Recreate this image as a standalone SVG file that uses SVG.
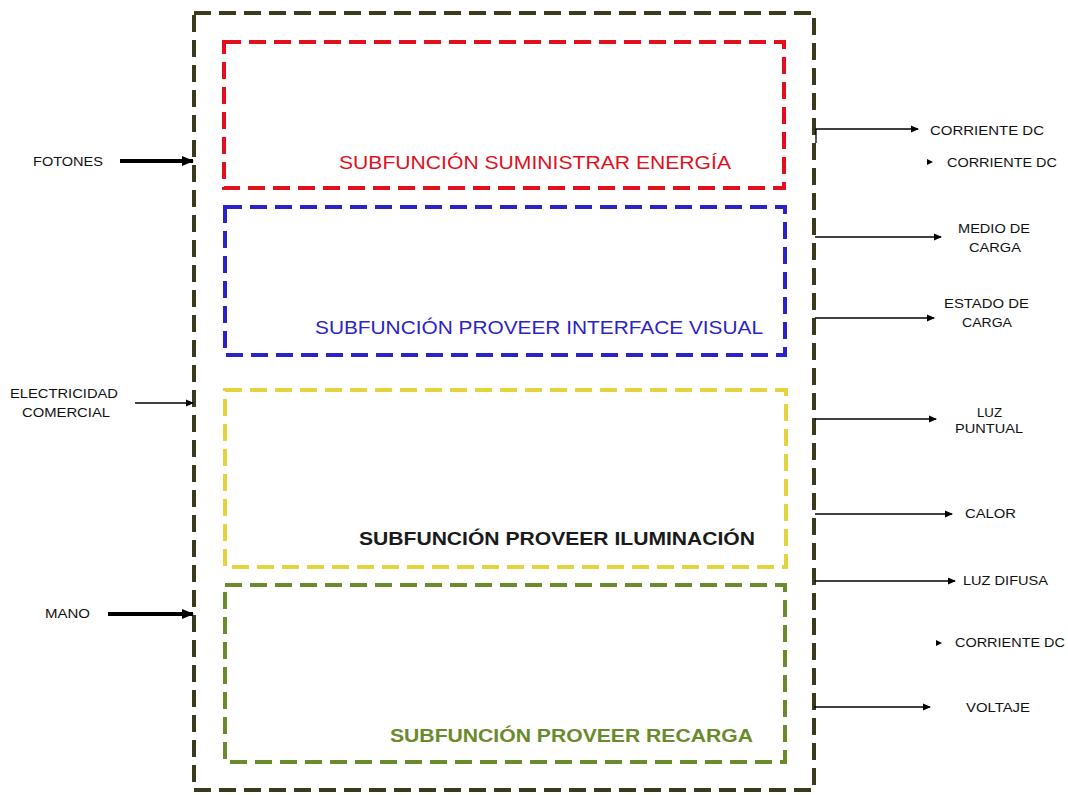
<svg xmlns="http://www.w3.org/2000/svg" width="1068" height="795" viewBox="0 0 1068 795">
<style>
.lbl{font-family:"Liberation Sans",Arial,sans-serif;font-size:13px;fill:#111}
.sub{font-family:"Liberation Sans",Arial,sans-serif;font-size:19px}
.box{fill:none;stroke-width:4;stroke-dasharray:17 8}
.thin{stroke:#000;stroke-width:1.3;fill:none}
.thick{stroke:#000;stroke-width:4;fill:none}
</style>
<defs>
<marker id="ah" markerWidth="8" markerHeight="8" refX="7" refY="4" orient="auto" markerUnits="userSpaceOnUse"><path d="M0,0.5 L8,4 L0,7.5 Z" fill="#000"/></marker>
<marker id="ahb" markerWidth="12" markerHeight="12" refX="11" refY="6" orient="auto" markerUnits="userSpaceOnUse"><path d="M0,1 L12,6 L0,11 Z" fill="#000"/></marker>
</defs>
<rect width="1068" height="795" fill="#fff"/>
<g id="outer"><rect x="194" y="13" width="620" height="777" class="box" stroke="#3b3a1c"/></g>
<g id="energia"><rect x="224" y="42" width="560" height="146" class="box" stroke="#e2101c"/><text class="sub" x="339" y="169" fill="#e2101c" textLength="392" lengthAdjust="spacingAndGlyphs">SUBFUNCIÓN SUMINISTRAR ENERGÍA</text></g>
<g id="interface"><rect x="225" y="207" width="560" height="148" class="box" stroke="#2b22c8"/><text class="sub" x="315" y="334" fill="#2b22c8" textLength="448" lengthAdjust="spacingAndGlyphs">SUBFUNCIÓN PROVEER INTERFACE VISUAL</text></g>
<g id="iluminacion"><rect x="225" y="390" width="561" height="177" class="box" stroke="#e3d33c"/><text class="sub" x="359" y="545" fill="#1a1a1a" font-weight="bold" textLength="396" lengthAdjust="spacingAndGlyphs">SUBFUNCIÓN PROVEER ILUMINACIÓN</text></g>
<g id="recarga"><rect x="225" y="585" width="560" height="177" class="box" stroke="#6b8a2c"/><text class="sub" x="390" y="742" fill="#6b8a2c" font-weight="bold" textLength="363" lengthAdjust="spacingAndGlyphs">SUBFUNCIÓN PROVEER RECARGA</text></g>
<g id="labels">
<text class="lbl" x="33" y="166" textLength="70" lengthAdjust="spacingAndGlyphs">FOTONES</text>
<text class="lbl" x="10" y="398" textLength="108" lengthAdjust="spacingAndGlyphs">ELECTRICIDAD</text>
<text class="lbl" x="22" y="417" textLength="88" lengthAdjust="spacingAndGlyphs">COMERCIAL</text>
<text class="lbl" x="45" y="618" textLength="45" lengthAdjust="spacingAndGlyphs">MANO</text>
<text class="lbl" x="930" y="135" textLength="114" lengthAdjust="spacingAndGlyphs">CORRIENTE DC</text>
<text class="lbl" x="947" y="167" textLength="110" lengthAdjust="spacingAndGlyphs">CORRIENTE DC</text>
<text class="lbl" x="958" y="233" textLength="72" lengthAdjust="spacingAndGlyphs">MEDIO DE</text>
<text class="lbl" x="969" y="252" textLength="52" lengthAdjust="spacingAndGlyphs">CARGA</text>
<text class="lbl" x="944" y="308" textLength="85" lengthAdjust="spacingAndGlyphs">ESTADO DE</text>
<text class="lbl" x="962" y="327" textLength="50" lengthAdjust="spacingAndGlyphs">CARGA</text>
<text class="lbl" x="977" y="417" textLength="25" lengthAdjust="spacingAndGlyphs">LUZ</text>
<text class="lbl" x="955" y="433" textLength="68" lengthAdjust="spacingAndGlyphs">PUNTUAL</text>
<text class="lbl" x="965" y="518" textLength="51" lengthAdjust="spacingAndGlyphs">CALOR</text>
<text class="lbl" x="963" y="585" textLength="85" lengthAdjust="spacingAndGlyphs">LUZ DIFUSA</text>
<text class="lbl" x="955" y="647" textLength="110" lengthAdjust="spacingAndGlyphs">CORRIENTE DC</text>
<text class="lbl" x="966" y="712" textLength="64" lengthAdjust="spacingAndGlyphs">VOLTAJE</text>
</g>
<g id="connectors">
<line x1="120" y1="161" x2="193" y2="161" class="thick" marker-end="url(#ahb)"/>
<line x1="135" y1="403" x2="193" y2="403" class="thin" marker-end="url(#ah)"/>
<line x1="108" y1="614" x2="193" y2="614" class="thick" marker-end="url(#ahb)"/>
<polyline points="816,143 816,129 918,129" class="thin" marker-end="url(#ah)"/>
<path d="M927,159 L933,162 L927,165 Z" fill="#000"/>
<line x1="815" y1="237" x2="941" y2="237" class="thin" marker-end="url(#ah)"/>
<line x1="815" y1="318" x2="934" y2="318" class="thin" marker-end="url(#ah)"/>
<line x1="815" y1="419" x2="936" y2="419" class="thin" marker-end="url(#ah)"/>
<line x1="815" y1="514" x2="952" y2="514" class="thin" marker-end="url(#ah)"/>
<line x1="815" y1="581" x2="955" y2="581" class="thin" marker-end="url(#ah)"/>
<path d="M936,640 L942,643 L936,646 Z" fill="#000"/>
<line x1="814" y1="707" x2="930" y2="707" class="thin" marker-end="url(#ah)"/>
</g>
</svg>
